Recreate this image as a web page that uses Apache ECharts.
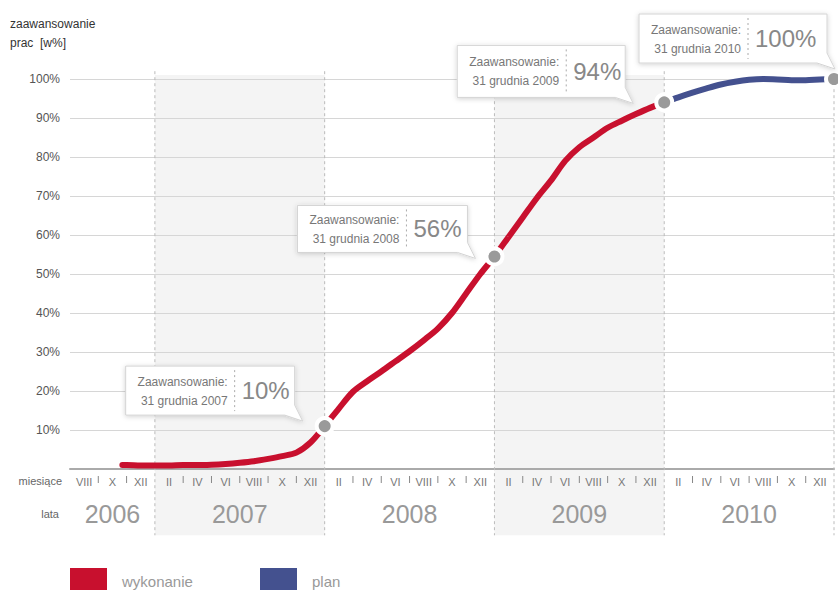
<!DOCTYPE html>
<html><head><meta charset="utf-8">
<script src="https://cdn.jsdelivr.net/npm/echarts@6/dist/echarts.min.js"></script>
<style>html,body{margin:0;padding:0;background:#fff}#c{width:838px;height:590px}</style>
</head><body><div id="c"></div>
<script>
// x = months counted from 1 July 2006 (0) to 31 Dec 2010 (54)
const actualMonths = [3.7,4,5,6,7,8,9,10,11,12,13,14,15,16,17,18,19,20,21,22,23,24,25,26,27,28,29,30,31,32,33,34,35,36,37,38,39,40,41,42];
const actualValues = [1.0,1.0,0.9,0.9,0.9,1.0,1.0,1.1,1.3,1.6,2.0,2.6,3.3,4.2,6.8,11,15.5,19.8,22.5,25,27.6,30.2,33,36,40,45,50,54.5,59.5,64.5,69.5,74,79,82.5,85,87.5,89.3,91,92.6,94];
const planMonths = [42,43,44,45,46,47,48,49,50,51,52,53,54];
const planValues = [94,95.3,96.5,97.6,98.6,99.3,99.8,100,99.9,99.7,99.7,99.9,100];
const monthLabels = ['VIII','X','XII','II','IV','VI','VIII','X','XII','II','IV','VI','VIII','X','XII','II','IV','VI','VIII','X','XII','II','IV','VI','VIII','X','XII'];
const monthSeparators = [2,4,8,10,12,14,16,20,22,24,26,28,32,34,36,38,40,44,46,48,50,52];
const yearLabels = ['2006','2007','2008','2009','2010'];
const yearCenters = [3,12,24,36,48];
const yearBoundaries = [6,18,30,42,54];
const shadedYears = [[6,18],[30,42]];
const calloutMonths = [18,30,42,54];
const calloutDates = ['31 grudnia 2007','31 grudnia 2008','31 grudnia 2009','31 grudnia 2010'];
const calloutPct = ['10%','56%','94%','100%'];

// layout only (pixels relative to the marked point): left, right, top, bottom
const calloutBoxes = [[-199,-30,-60,-11],[-197,-27,-51,-4],[-207,-39,-57,-5],[-195,-7,-65,-16]];

const RED = '#c8102e', BLUE = '#44518f';
const FONT = '"Liberation Sans", Arial, sans-serif';

function valueAt(m){
  let i = actualMonths.indexOf(m);
  if (i >= 0) return actualValues[i];
  i = planMonths.indexOf(m);
  return planValues[i];
}
const yearMap = {};
yearCenters.forEach((c,i)=>{ yearMap[c] = yearLabels[i]; });

const chart = echarts.init(document.getElementById('c'), null, {renderer:'svg'});
chart.setOption({
  animation:false,
  textStyle:{fontFamily:FONT},
  grid:{left:70, right:4, top:79, bottom:121},
  xAxis:[{
    type:'value', min:0, max:54, interval:3,
    axisLine:{show:true, lineStyle:{color:'#aaa', width:2}},
    axisTick:{show:false}, splitLine:{show:false},
    axisLabel:{margin:32, fontSize:25, color:'#999', fontFamily:FONT,
      formatter:v => yearMap[v] || '', showMinLabel:true, showMaxLabel:true}
  },{
    type:'category', data:monthLabels, position:'bottom', offset:7, boundaryGap:true,
    axisLine:{show:false}, axisTick:{show:false},
    axisLabel:{margin:0, fontSize:11, color:'#777', interval:0}
  }],
  yAxis:{
    type:'value', min:0, max:100, interval:10,
    axisLine:{show:false}, axisTick:{show:false},
    splitLine:{lineStyle:{color:'#d6d6d6'}},
    axisLabel:{margin:10, fontSize:12, color:'#555', formatter:v => v===0 ? '' : v+'%'}
  },
  legend:[
    {data:['wykonanie'], left:70, top:568, padding:0, icon:'rect', itemWidth:37, itemHeight:26,
     textStyle:{color:'#999', fontSize:15, padding:[0,0,0,10]}, selectedMode:false},
    {data:['plan'], left:260, top:568, padding:0, icon:'rect', itemWidth:37, itemHeight:26,
     textStyle:{color:'#999', fontSize:15, padding:[0,0,0,10]}, selectedMode:false}
  ],
  graphic:[
    {type:'text', x:10, y:24, style:{text:'zaawansowanie', fill:'#333', font:'12px '+FONT, verticalAlign:'middle'}},
    {type:'text', x:10, y:43, style:{text:'prac  [w%]', fill:'#333', font:'12px '+FONT, verticalAlign:'middle'}},
    {type:'text', x:62, y:481, style:{text:'miesiące', fill:'#666', font:'11px '+FONT, align:'right', verticalAlign:'middle'}},
    {type:'text', x:59, y:514, style:{text:'lata', fill:'#666', font:'11px '+FONT, align:'right', verticalAlign:'middle'}}
  ],
  series:[
    {
      type:'custom', name:'bands', z:-1, clip:false, silent:true,
      data: shadedYears,
      renderItem:(params, api)=>{
        const a = api.coord([api.value(0), 101]);
        const b = api.coord([api.value(1), -17]);
        return {type:'rect', shape:{x:a[0], y:a[1], width:b[0]-a[0], height:b[1]-a[1]},
                style:{fill:'#f4f4f4'}};
      }
    },
    {
      type:'custom', name:'boundaries', z:1, clip:false, silent:true,
      data: yearBoundaries.map(v=>[v]),
      renderItem:(params, api)=>{
        const a = api.coord([api.value(0), 102]);
        const b = api.coord([api.value(0), -17]);
        return {type:'line', shape:{x1:a[0], y1:a[1], x2:b[0], y2:b[1]},
                style:{stroke:'#bbb', lineWidth:1, lineDash:[3,3]}};
      }
    },
    {
      type:'custom', name:'monthTicks', z:1, clip:false, silent:true,
      data: monthSeparators.map(v=>[v]),
      renderItem:(params, api)=>{
        const a = api.coord([api.value(0), 0]);
        return {type:'line', shape:{x1:a[0], y1:a[1]+7, x2:a[0], y2:a[1]+14},
                style:{stroke:'#888', lineWidth:1}};
      }
    },
    {
      type:'line', name:'wykonanie', z:3, smooth:0.3, showSymbol:false,
      data: actualMonths.map((m,i)=>[m, actualValues[i]]),
      lineStyle:{color:RED, width:6, cap:'round'}, itemStyle:{color:RED}
    },
    {
      type:'line', name:'plan', z:3, smooth:0.3, showSymbol:false,
      data: planMonths.map((m,i)=>[m, planValues[i]]),
      lineStyle:{color:BLUE, width:6, cap:'round'}, itemStyle:{color:BLUE}
    },
    {
      type:'scatter', name:'points', z:5, symbolSize:16, silent:true,
      data: calloutMonths.map(m=>[m, valueAt(m)]),
      itemStyle:{color:'#9a9a9a', borderColor:'#fff', borderWidth:4, opacity:1}
    },
    {
      type:'custom', name:'callouts', z:10, clip:false, silent:true,
      data: calloutMonths.map((m,i)=>[m, valueAt(m), i]),
      renderItem:(params, api)=>{
        const p = api.coord([api.value(0), api.value(1)]);
        const i = api.value(2);
        const bx = calloutBoxes[i];
        const L = p[0]+bx[0], R = p[0]+bx[1], T = p[1]+bx[2], B = p[1]+bx[3];
        const sep = L + 109;
        const mid = (T+B)/2;
        return {type:'group', children:[
          {type:'polygon', shape:{points:[[L,T],[R,T],[R,B-10],[R+8,B+6],[R-10,B],[L,B]]},
           style:{fill:'#fff', stroke:'#d4d4d4', lineWidth:1, shadowBlur:5, shadowColor:'rgba(0,0,0,0.18)', shadowOffsetY:1}},
          {type:'line', shape:{x1:sep, y1:T+4, x2:sep, y2:B-4}, style:{stroke:'#aaa', lineWidth:1, lineDash:[2,3]}},
          {type:'text', style:{x:sep-7, y:mid-9, text:'Zaawansowanie:', fill:'#777', font:'12px '+FONT, align:'right', verticalAlign:'middle'}},
          {type:'text', style:{x:sep-7, y:mid+10, text:calloutDates[i], fill:'#777', font:'12px '+FONT, align:'right', verticalAlign:'middle'}},
          {type:'text', style:{x:sep+7, y:mid, text:calloutPct[i], fill:'#888', font:'24px '+FONT, align:'left', verticalAlign:'middle'}}
        ]};
      }
    }
  ]
});
</script></body></html>
